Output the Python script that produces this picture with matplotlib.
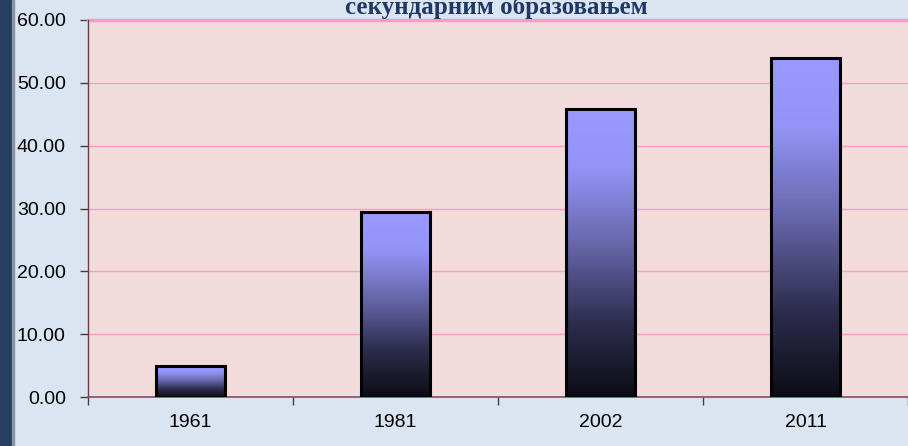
import numpy as np
import matplotlib.pyplot as plt
from matplotlib.colors import LinearSegmentedColormap

years = ['1961', '1981', '2002', '2011']
shares = [4.9, 29.4, 45.8, 53.9]
yticks = [0, 10, 20, 30, 40, 50, 60]
title = 'секундарним образовањем'

fig = plt.figure(figsize=(9.08, 4.46), dpi=100, facecolor='#DBE5F1')
# dark strip on the left edge
fig.patches.append(plt.Rectangle((0, 0), 12 / 908, 1, transform=fig.transFigure,
                                 color='#243F60', zorder=0))
fig.patches.append(plt.Rectangle((12 / 908, 0), 1.5 / 908, 1, transform=fig.transFigure,
                                 color='#8a96a8', zorder=0))

ax = fig.add_axes([88 / 908, 1 - 397 / 446, 820 / 908, 377 / 446])
ax.set_facecolor('#F2DCDB')

x = np.arange(len(years))
bars = ax.bar(x, shares, width=0.34, facecolor='none', edgecolor='black',
              linewidth=2.2, zorder=3)

# vertical gradient inside each bar (light at top, near black at bottom)
cmap = LinearSegmentedColormap.from_list(
    'barfade', [(0.0, '#0c0c16'), (0.25, '#2c2c4c'), (0.55, '#6a6ab0'),
                (0.8, '#9494f8'), (1.0, '#9999ff')])
grad = np.linspace(0, 1, 256).reshape(-1, 1)
for b in bars:
    x0, w, h = b.get_x(), b.get_width(), b.get_height()
    ax.imshow(grad, extent=(x0, x0 + w, 0, h), origin='lower', cmap=cmap,
              aspect='auto', zorder=2)

ax.set_xlim(-0.5, len(years) - 0.5)
ax.set_ylim(0, 60)
ax.set_yticks(yticks)
ax.set_yticklabels(['%.2f' % v for v in yticks])
ax.set_xticks(x)
ax.set_xticklabels(years)
ax.set_xticks(np.arange(len(years) + 1) - 0.5, minor=True)
ax.tick_params(axis='x', which='major', length=0, pad=12)
ax.tick_params(axis='x', which='minor', length=6, color='#404040', width=1)
ax.tick_params(axis='y', length=6, color='#404040', width=1, pad=10)
for lab in ax.get_xticklabels() + ax.get_yticklabels():
    lab.set_fontfamily('Liberation Sans')
    lab.set_fontsize(14)
    lab.set_color('black')

ax.yaxis.grid(True, color='#FF99CC', linewidth=1)
ax.set_axisbelow(True)
for s in ['top', 'right']:
    ax.spines[s].set_visible(False)
ax.axhline(60, color='#FF99CC', linewidth=2.5, zorder=1, clip_on=False)
ax.spines['left'].set_color('#6a3a50')
ax.spines['bottom'].set_color('#8a4a66')
ax.spines['left'].set_linewidth(1)
ax.spines['bottom'].set_linewidth(1.2)

# the chart title is only partly visible in the original (cut at the top)
fig.text(496 / 908, 1 - 14 / 446, title, ha='center', va='baseline',
         fontsize=18, fontweight='bold', fontfamily='Liberation Serif',
         color='#1F3864')

fig.savefig('out.png', dpi=100, facecolor=fig.get_facecolor())
